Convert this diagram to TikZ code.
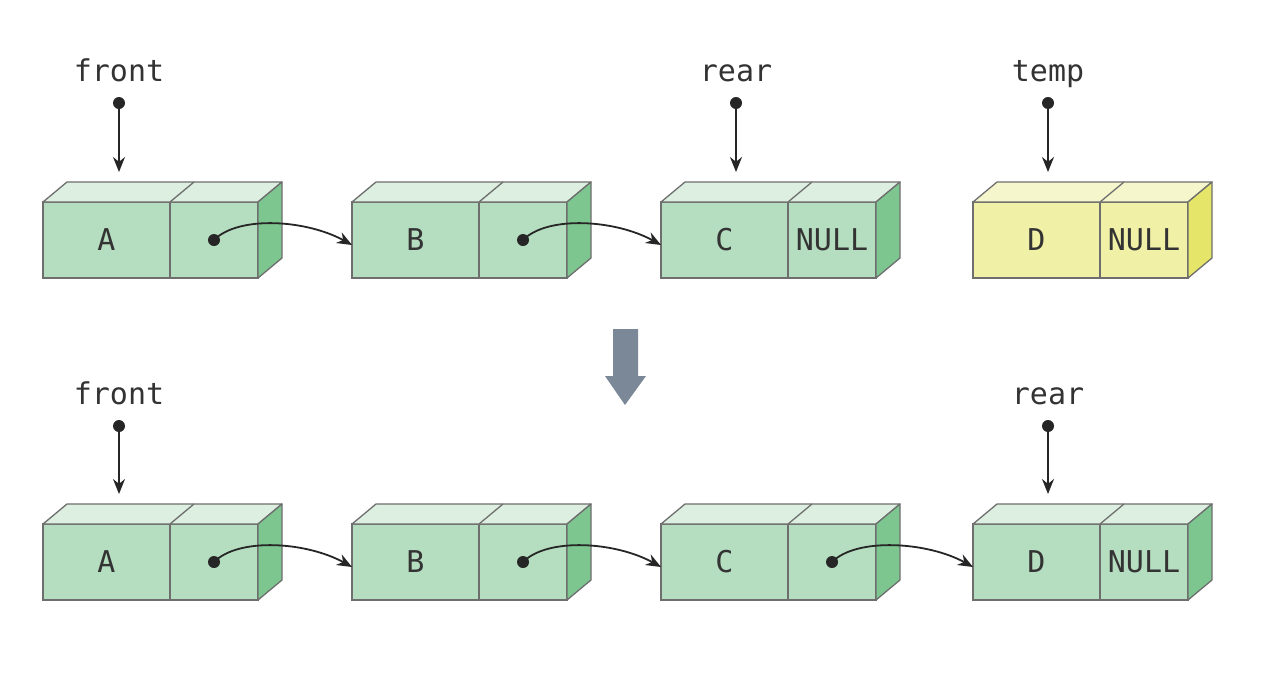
\documentclass[tikz,border=0pt]{standalone}
\usepackage{fontspec}
\setmonofont{DejaVu Sans Mono}
\usetikzlibrary{calc,arrows.meta}
\definecolor{gfront}{HTML}{B5DEC0}
\definecolor{gtop}{HTML}{DCEFE0}
\definecolor{gside}{HTML}{7DC690}
\definecolor{yfront}{HTML}{F0F0A6}
\definecolor{ytop}{HTML}{F6F6CC}
\definecolor{yside}{HTML}{E5E56A}
\definecolor{edgegray}{HTML}{6E6E6E}
\definecolor{ink}{HTML}{333333}
\definecolor{bigarrow}{HTML}{7B8898}
\newcommand\listcell[5]{%
  \node[datacell, fill=#5front, anchor=north west] (#1) at (#2,#3) {#4};
  \node[ptrcell, fill=#5front, anchor=west] (#1p) at (#1.east) {};
  \filldraw[face, fill=#5top] (#1.north west) -- ++(24,-20) -- ($(#1p.north east)+(24,-20)$) -- (#1p.north east) -- cycle;
  \draw[face] (#1.north east) -- ++(24,-20);
  \filldraw[face, fill=#5side] (#1p.north east) -- ++(24,-20) -- ++(0,76) -- (#1p.south east) -- cycle;
}
\begin{document}
\begin{tikzpicture}[x=1pt,y=-1pt,
  cell/.style={draw=edgegray, line width=1.3pt, inner sep=0pt, outer sep=0pt, minimum height=76pt, font=\ttfamily\fontsize{30}{30}\selectfont, text=ink},
  datacell/.style={cell, minimum width=127pt},
  ptrcell/.style={cell, minimum width=88pt},
  nulltext/.style={cell, draw=none, minimum height=0pt},
  face/.style={draw=edgegray, line width=1.3pt, line join=round},
  lbl/.style={font=\ttfamily\fontsize{30}{30}\selectfont, text=ink, text height=22pt, text depth=0pt, inner sep=0pt},
  link/.style={-{Stealth[length=15pt,width=12pt]}, line width=1.8pt, draw=black!85},
  ptrlink/.style={link, shorten >=30pt},
  dotmark/.style={circle, fill=black!85, inner sep=0pt, minimum size=12pt}]
\useasboundingbox (0,0) rectangle (1263,678);
\fill[white] (0,0) rectangle (1263,678);

% ---- row 1
\listcell{A}{43}{202}{A}{g}
\listcell{B}{352}{202}{B}{g}
\listcell{C}{661}{202}{C}{g}
\listcell{D}{973}{202}{D}{y}
\node[nulltext] (Cnull) at (Cp.center) {NULL};
\node[nulltext] (Dnull) at (Dp.center) {NULL};
\node[dotmark] (Ad) at (Ap.center) {};
\node[dotmark] (Bd) at (Bp.center) {};
\draw[link] (Ad.center) .. controls +(25,-25) and +(-45,-25) .. ($(B.west)+(0,5)$);
\draw[link] (Bd.center) .. controls +(25,-25) and +(-45,-25) .. ($(C.west)+(0,5)$);

\node[lbl] (front1) at (119,70) {front};
\node[dotmark] (front1d) at (119,103) {};
\draw[ptrlink] (front1d.center) -- (front1d.center |- A.north);
\node[lbl] (rear1) at (736,70) {rear};
\node[dotmark] (rear1d) at (736,103) {};
\draw[ptrlink] (rear1d.center) -- (rear1d.center |- C.north);
\node[lbl] (temp1) at (1048,70) {temp};
\node[dotmark] (temp1d) at (1048,103) {};
\draw[ptrlink] (temp1d.center) -- (temp1d.center |- D.north);

% ---- big arrow
\fill[bigarrow] (613,329) -- (638,329) -- (638,376) -- (646,376) -- (625,405) -- (605,376) -- (613,376) -- cycle;

% ---- row 2
\listcell{E}{43}{524}{A}{g}
\listcell{F}{352}{524}{B}{g}
\listcell{G}{661}{524}{C}{g}
\listcell{H}{973}{524}{D}{g}
\node[nulltext] (Hnull) at (Hp.center) {NULL};
\node[dotmark] (Ed) at (Ep.center) {};
\node[dotmark] (Fd) at (Fp.center) {};
\node[dotmark] (Gd) at (Gp.center) {};
\draw[link] (Ed.center) .. controls +(25,-25) and +(-45,-25) .. ($(F.west)+(0,5)$);
\draw[link] (Fd.center) .. controls +(25,-25) and +(-45,-25) .. ($(G.west)+(0,5)$);
\draw[link] (Gd.center) .. controls +(25,-25) and +(-45,-25) .. ($(H.west)+(0,5)$);

\node[lbl] (front2) at (119,393) {front};
\node[dotmark] (front2d) at (119,426) {};
\draw[ptrlink] (front2d.center) -- (front2d.center |- E.north);
\node[lbl] (rear2) at (1048,393) {rear};
\node[dotmark] (rear2d) at (1048,426) {};
\draw[ptrlink] (rear2d.center) -- (rear2d.center |- H.north);
\end{tikzpicture}
\end{document}
